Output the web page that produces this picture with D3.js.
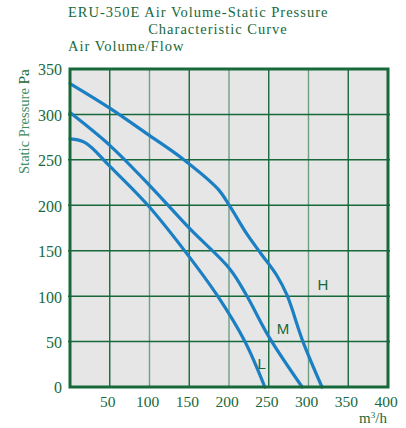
<!DOCTYPE html>
<html>
<head>
<meta charset="utf-8">
<script src="https://cdn.jsdelivr.net/npm/d3@7"></script>
<style>
	body { margin: 0; background: #fff; }
	text { font-family: "Liberation Serif", "Times New Roman", serif; }
</style>
</head>
<body>
<div id="chart"></div>
<script>
// Curve data (air volume m3/h, static pressure Pa)
const curveNames = ['H', 'M', 'L'];
const flowH = [0, 50, 98, 142, 186, 201, 222, 240, 260, 273, 293, 317];
const pressH = [334, 307, 278, 251, 218, 199, 169, 147, 123, 101, 50, 0];
const flowM = [0, 50, 100, 151, 201, 222, 251, 292];
const pressM = [302, 266, 222, 174, 130, 101, 54, 0];
const flowL = [0, 19, 50, 98, 145, 185, 220, 245];
const pressL = [273, 269, 243, 200, 149, 101, 50, 0];

// where the H / M / L letters sit, in data units
const labelFlow = [318, 268, 241];
const labelPress = [113, 64, 26];

const xTicks = [50, 100, 150, 200, 250, 300, 350, 400];
const yTicks = [0, 50, 100, 150, 200, 250, 300, 350];

const width = 406, height = 428;
const plot = {left: 70, right: 388, top: 69, bottom: 387};
const dark = '#17693b', light = '#6f9f82', blue = '#1b7fc4';

const svg = d3.select('#chart').append('svg')
	.attr('width', width)
	.attr('height', height);

const x = d3.scaleLinear().domain([0, 400]).range([plot.left, plot.right]);
const y = d3.scaleLinear().domain([0, 350]).range([plot.bottom, plot.top]);

// Titles
const titles = svg.append('g')
	.style('font-size', '14.5px')
	.style('letter-spacing', '1px')
	.style('fill', dark);
titles.append('text').attr('x', 68).attr('y', 17)
	.text('ERU-350E Air Volume-Static Pressure');
titles.append('text').attr('x', 218).attr('y', 34)
	.attr('text-anchor', 'middle')
	.text('Characteristic Curve');
titles.append('text').attr('x', 68).attr('y', 51)
	.text('Air Volume/Flow');

// plot background
svg.append('rect')
	.attr('x', plot.left).attr('y', plot.top)
	.attr('width', plot.right - plot.left).attr('height', plot.bottom - plot.top)
	.style('fill', '#e6e6e6');

// grid
svg.append('g').selectAll('line')
	.data(xTicks.slice(0, -1))
	.enter().append('line')
		.attr('x1', d => x(d)).attr('x2', d => x(d))
		.attr('y1', plot.top).attr('y2', plot.bottom)
		.style('stroke', (d, i) => i % 2 ? light : dark)
		.style('stroke-width', 1.4);

svg.append('g').selectAll('line')
	.data(yTicks.slice(1, -1))
	.enter().append('line')
		.attr('x1', plot.left - 2).attr('x2', plot.right + 2)
		.attr('y1', d => y(d)).attr('y2', d => y(d))
		.style('stroke', dark)
		.style('stroke-width', 1.5);

// curves
const line = d3.line()
	.x(d => x(d[0]))
	.y(d => y(d[1]))
	.curve(d3.curveCatmullRom.alpha(0.5));

const series = [
	d3.zip(flowH, pressH),
	d3.zip(flowM, pressM),
	d3.zip(flowL, pressL)
];

svg.append('g').selectAll('path')
	.data(series)
	.enter().append('path')
		.attr('d', line)
		.style('fill', 'none')
		.style('stroke', blue)
		.style('stroke-width', 3.2)
		.style('stroke-linecap', 'round');

// border
svg.append('rect')
	.attr('x', plot.left).attr('y', plot.top)
	.attr('width', plot.right - plot.left).attr('height', plot.bottom - plot.top)
	.style('fill', 'none')
	.style('stroke', dark)
	.style('stroke-width', 3);

// curve letters
svg.append('g').selectAll('text')
	.data(curveNames)
	.enter().append('text')
		.attr('x', (d, i) => x(labelFlow[i]))
		.attr('y', (d, i) => y(labelPress[i]))
		.attr('dy', '0.36em')
		.attr('text-anchor', 'middle')
		.style('font-family', '"Liberation Sans", Arial, sans-serif')
		.style('font-size', '15px')
		.style('fill', dark)
		.text(d => d);

// Y axis labels
svg.append('g').selectAll('text')
	.data(yTicks)
	.enter().append('text')
		.attr('x', 62)
		.attr('y', d => y(d))
		.attr('dy', '0.4em')
		.attr('text-anchor', 'end')
		.style('font-size', '16px')
		.style('fill', dark)
		.text(d => d);

// X axis labels
svg.append('g').selectAll('text')
	.data(xTicks)
	.enter().append('text')
		.attr('x', d => x(d) - 2)
		.attr('y', 407)
		.attr('text-anchor', 'middle')
		.style('font-size', '15.5px')
		.style('fill', dark)
		.text(d => d);

// unit under x axis
const unit = svg.append('text')
	.attr('x', 373).attr('y', 423)
	.attr('text-anchor', 'middle')
	.style('font-size', '15px')
	.style('fill', dark);
unit.append('tspan').text('m');
unit.append('tspan').attr('dy', -5).style('font-size', '9px').text('3');
unit.append('tspan').attr('dy', 5).text('/h');

// y title
const yTitle = svg.append('text')
	.attr('transform', `translate(29, ${(65 + 178) / 2}) rotate(-90)`)
	.attr('text-anchor', 'middle')
	.style('font-size', '14.5px')
	.style('fill', '#3f8d5f');
yTitle.append('tspan').text('Static Pressure ');
yTitle.append('tspan').style('fill', dark).style('font-size', '15.5px').text('Pa');
</script>
</body>
</html>
